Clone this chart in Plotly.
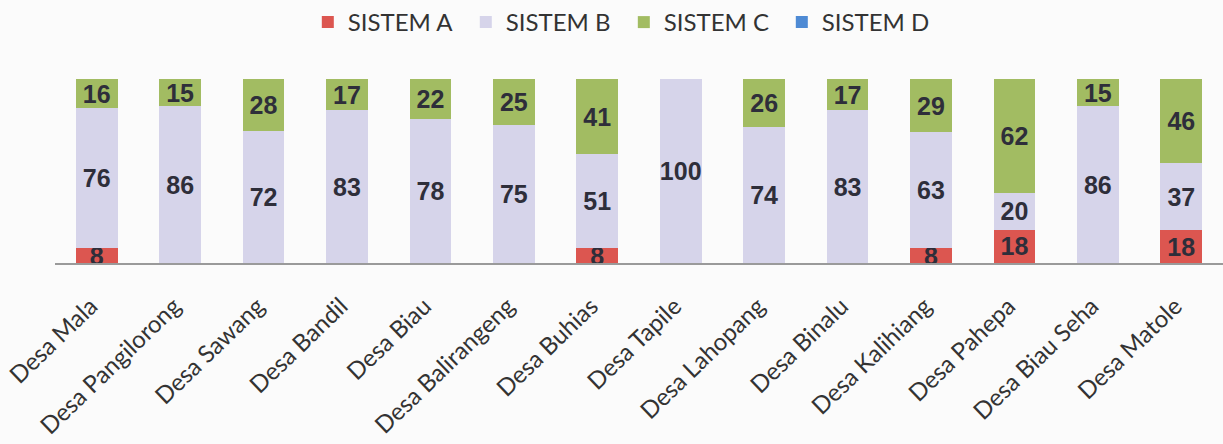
import plotly.graph_objects as go

# Villages (x categories)
desa = [
    "Desa Mala", "Desa Pangilorong", "Desa Sawang", "Desa Bandil", "Desa Biau",
    "Desa Balirangeng", "Desa Buhias", "Desa Tapile", "Desa Lahopang", "Desa Binalu",
    "Desa Kalihiang", "Desa Pahepa", "Desa Biau Seha", "Desa Matole",
]

# Share per system in each village
sistem_a = [8, 0, 0, 0, 0, 0, 8, 0, 0, 0, 8, 18, 0, 18]
sistem_b = [76, 86, 72, 83, 78, 75, 51, 100, 74, 83, 63, 20, 86, 37]
sistem_c = [16, 15, 28, 17, 22, 25, 41, 0, 26, 17, 29, 62, 15, 46]
sistem_d = [0, 0, 0, 0, 0, 0, 0, 0, 0, 0, 0, 0, 0, 0]

series = [
    ("SISTEM A", sistem_a, "#DC5650"),
    ("SISTEM B", sistem_b, "#D6D4EA"),
    ("SISTEM C", sistem_c, "#A2BC62"),
    ("SISTEM D", sistem_d, "#4E8AD4"),
]

fig = go.Figure()
for name, vals, color in series:
    fig.add_trace(go.Bar(
        name=name,
        x=desa,
        y=vals,
        marker=dict(color=color, line=dict(width=0)),
        text=[str(v) if v else "" for v in vals],
        textposition="inside",
        insidetextanchor="middle",
        constraintext="none",
        textangle=0,
        textfont=dict(family="Liberation Sans, Arial, sans-serif", size=25,
                      color="#2E2E3A", weight="bold"),
        hoverinfo="skip",
    ))

fig.update_layout(
    barmode="stack",
    barnorm="percent",
    bargap=0.5,
    width=1223,
    height=444,
    margin=dict(l=55, r=0, t=79, b=181),
    paper_bgcolor="#FBFBFB",
    plot_bgcolor="#FBFBFB",
    uniformtext=dict(minsize=25, mode="show"),
    showlegend=True,
    legend=dict(
        orientation="h",
        x=0.487, xanchor="center",
        yref="container", y=1.0, yanchor="top",
        font=dict(family="Lato, sans-serif", size=24, color="#333333"),
        itemwidth=30,
        entrywidth=113,
        entrywidthmode="pixels",
        traceorder="normal",
    ),
    xaxis=dict(
        tickangle=-44,
        tickfont=dict(family="Lato, sans-serif", size=24, color="#333333"),
        ticklabelstandoff=18,
        ticklabelshift=-6,
        showline=True, linecolor="#9A9A9A", linewidth=1.5,
        ticks="", showgrid=False,
    ),
    yaxis=dict(
        range=[0, 100], visible=False, showgrid=False,
    ),
)

fig.write_html("out.html")
